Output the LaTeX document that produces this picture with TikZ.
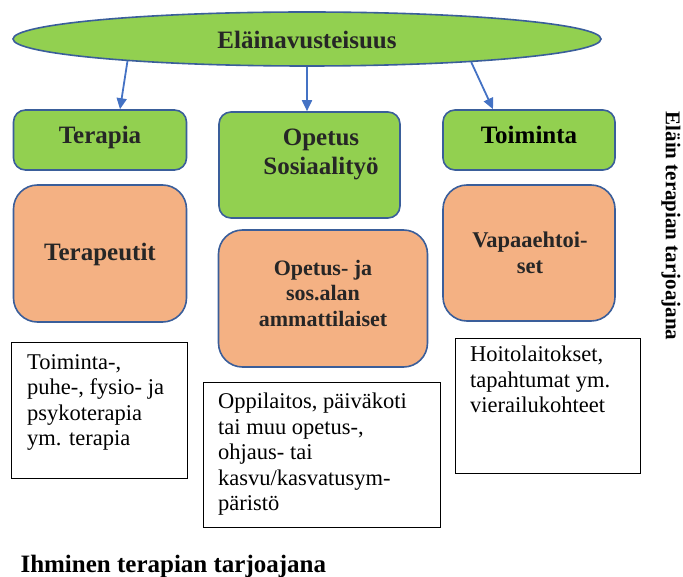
\documentclass[tikz,border=0pt]{standalone}
\usepackage{fontspec}
\setmainfont{Liberation Serif}[BoldFont={Liberation Serif Bold}]
\usetikzlibrary{calc}
\usetikzlibrary{shapes.geometric}
\usetikzlibrary{arrows.meta}

\definecolor{vihrea}{HTML}{92D050}
\definecolor{oranssi}{HTML}{F4B183}
\definecolor{reuna}{HTML}{3A5E9A}
\definecolor{nuoli}{HTML}{4472C4}
\definecolor{teksti}{HTML}{262626}

\begin{document}
\begin{tikzpicture}[x=1pt, y=-1pt,
  green/.style={draw=reuna, line width=1.6pt, fill=vihrea, rounded corners=12pt, inner sep=0pt},
  orange/.style={draw=reuna, line width=1.6pt, fill=oranssi, rounded corners=24pt, inner sep=0pt},
  white/.style={draw=black, line width=0.8pt, fill=white, inner sep=0pt},
  big/.style={font=\rmfamily\fontsize{25}{29}\selectfont\bfseries, text=teksti, align=center},
  mid/.style={font=\rmfamily\fontsize{22}{25.5}\selectfont\bfseries, text=teksti, align=center},
  body/.style={font=\rmfamily\fontsize{22.5}{25.5}\selectfont, align=left, inner sep=0pt, anchor=north west},
  arr/.style={draw=nuoli, line width=1.8pt, -{Triangle[length=11pt, width=10pt]}}]
\useasboundingbox (0,0) rectangle (683,577);

% ylin soikio
\node [ellipse, draw=reuna, line width=1.6pt, fill=vihrea, minimum width=588pt, minimum height=54pt] (elain) at (307,39) {};
\node [big] (elainT) at (307,40) {Eläinavusteisuus};

% vihreat laatikot
\node [green, minimum width=173pt, minimum height=60pt] (terapia) at (100,140) {};
\node [green, minimum width=181pt, minimum height=106pt] (opetus) at (309.5,165) {};
\node [green, minimum width=172pt, minimum height=60pt] (toiminta) at (529,140) {};
\node [big] (terapiaT) at (100,137) {Terapia};
\node [big] (opetusT) at (321,154) {Opetus\\Sosiaalityö};
\node [big, text=black] (toimintaT) at (529,135) {Toiminta};

% oranssit laatikot
\node [orange, minimum width=173pt, minimum height=137pt] (terapeutit) at (100,253.5) {};
\node [orange, minimum width=209pt, minimum height=137pt] (ammatti) at (323,298.5) {};
\node [orange, minimum width=172pt, minimum height=136pt] (vapaa) at (529,253) {};
\node [big] (terapeutitT) at (100,254) {Terapeutit};
\node [mid] (ammattiT) at (323,293) {Opetus- ja\\sos.alan\\ammattilaiset};
\node [mid, font=\rmfamily\fontsize{22.5}{26}\selectfont\bfseries] (vapaaT) at (530,253) {Vapaaehtoi-\\set};

% valkoiset laatikot
\node [white, minimum width=176pt, minimum height=136pt] (vasen) at (99,410) {};
\node [white, minimum width=237pt, minimum height=145pt] (keski) at (321.5,454.5) {};
\node [white, minimum width=185pt, minimum height=135pt] (oikea) at (547.5,405.5) {};
\node [body] (vasenT) at (27,354) {Toiminta-,\\puhe-, fysio- ja\\psykoterapia\\ym. terapia};
\node [body] (keskiT) at (218,393) {Oppilaitos, päiväkoti\\tai muu opetus-,\\ohjaus- tai\\kasvu/kasvatusym-\\päristö};
\node [body] (oikeaT) at (470,346) {Hoitolaitokset,\\tapahtumat ym.\\vierailukohteet};

% nuolet
\draw [arr] (elain.187) -- ($(terapia.north)+(20,0)$);
\draw [arr] (elain.south) -- (elain.south |- opetus.north);
\draw [arr] (elain.352.5) -- ($(toiminta.north)+(-36,0)$);

% reunatekstit
\node [font=\rmfamily\fontsize{21}{24}\selectfont\bfseries, rotate=-90] (ylaT) at (671,226) {Eläin terapian tarjoajana};
\node [font=\rmfamily\fontsize{25}{29}\selectfont\bfseries, anchor=base west] (alaT) at (17,572) {Ihminen terapian tarjoajana};
\end{tikzpicture}
\end{document}
